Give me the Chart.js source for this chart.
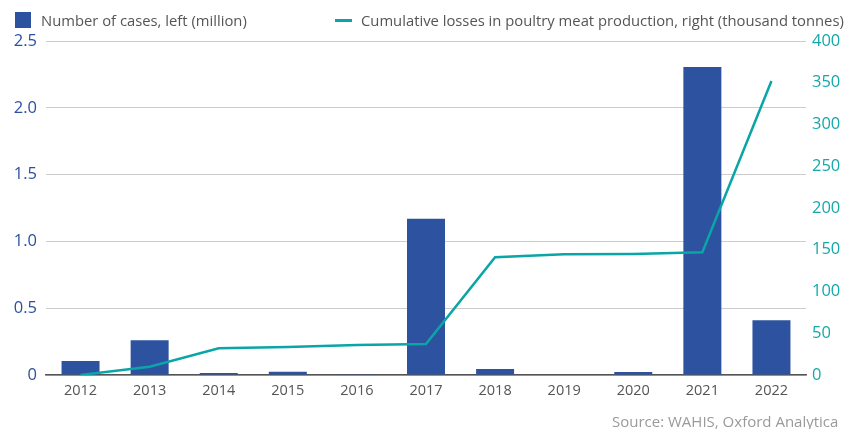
<!DOCTYPE html>
<html>
<head>
<meta charset="utf-8">
<script src="https://cdn.jsdelivr.net/npm/chart.js@4"></script>
<style>
  body { margin: 0; background: #fff; font-family: "Open Sans", sans-serif; }
  #wrap { position: relative; width: 846px; height: 429px; overflow: hidden; }
  .legend { position: absolute; top: 11px; height: 18px; font-size: 14.8px; color: #555; display: flex; align-items: center; white-space: nowrap; }
  .box { width: 16px; height: 16px; background: #2d53a0; margin-right: 10px; }
  .dash { width: 17px; height: 3px; background: #0aa5a6; margin-right: 9px; }
  #source { position: absolute; left: 612px; top: 411px; font-size: 15px; color: #9a9a9a; white-space: nowrap; }
</style>
</head>
<body>
<div id="wrap">
  <canvas id="grafico" width="846" height="429"></canvas>
  <div class="legend" style="left:15px"><div class="box"></div>Number of cases, left (million)</div>
  <div class="legend" style="left:335px"><div class="dash"></div>Cumulative losses in poultry meat production, right (thousand tonnes)</div>
  <div id="source">Source: WAHIS, Oxford Analytica</div>
</div>
<script>
var anos = ['2012', '2013', '2014', '2015', '2016', '2017', '2018', '2019', '2020', '2021', '2022']
var casos = [0.105, 0.26, 0.015, 0.025, 0.006, 1.17, 0.045, 0, 0.022, 2.305, 0.41]
var perdas = [0, 10, 32, 33.5, 36, 37, 141, 144.5, 145, 147, 352]

var corBarra = "#2d53a0"
var corLinha = "#0aa5a6"

var grafico = new Chart(document.getElementById("grafico"), {
  data: {
    labels: anos,
    datasets: [{
      type: "line",
      label: "Cumulative losses",
      data: perdas,
      yAxisID: "y2",
      borderColor: corLinha,
      borderWidth: 2.5,
      pointRadius: 0,
      tension: 0,
      order: 0
    }, {
      type: "bar",
      label: "Number of cases",
      data: casos,
      yAxisID: "y",
      backgroundColor: corBarra,
      categoryPercentage: 0.55,
      barPercentage: 1,
      order: 1
    }]
  },
  options: {
    responsive: false,
    animation: false,
    layout: { padding: { top: 41, left: 0, right: 0, bottom: 0 } },
    plugins: { legend: { display: false }, tooltip: { enabled: false } },
    scales: {
      x: {
        grid: { display: false, drawTicks: false },
        border: { color: "#555", width: 1.5 },
        ticks: { color: "#555", font: { family: "Open Sans", size: 14.5 }, padding: 7 },
        afterFit: (s) => { s.height = 54 }
      },
      y: {
        position: "left",
        min: 0,
        max: 2.5,
        grid: { color: "#ccc", drawTicks: false },
        border: { display: false },
        ticks: {
          stepSize: 0.5,
          color: "#2b50a0",
          font: { family: "Open Sans", size: 16.5 },
          padding: 9,
          callback: (v) => v == 0 ? "0" : v.toFixed(1)
        },
        afterFit: (s) => { s.width = 46 }
      },
      y2: {
        position: "right",
        min: 0,
        max: 400,
        grid: { display: false, drawTicks: false },
        border: { display: false },
        ticks: { stepSize: 50, color: "#16a8a9", font: { family: "Open Sans", size: 16.5 }, padding: 6 },
        afterFit: (s) => { s.width = 40 }
      }
    }
  }
})
</script>
</body>
</html>
